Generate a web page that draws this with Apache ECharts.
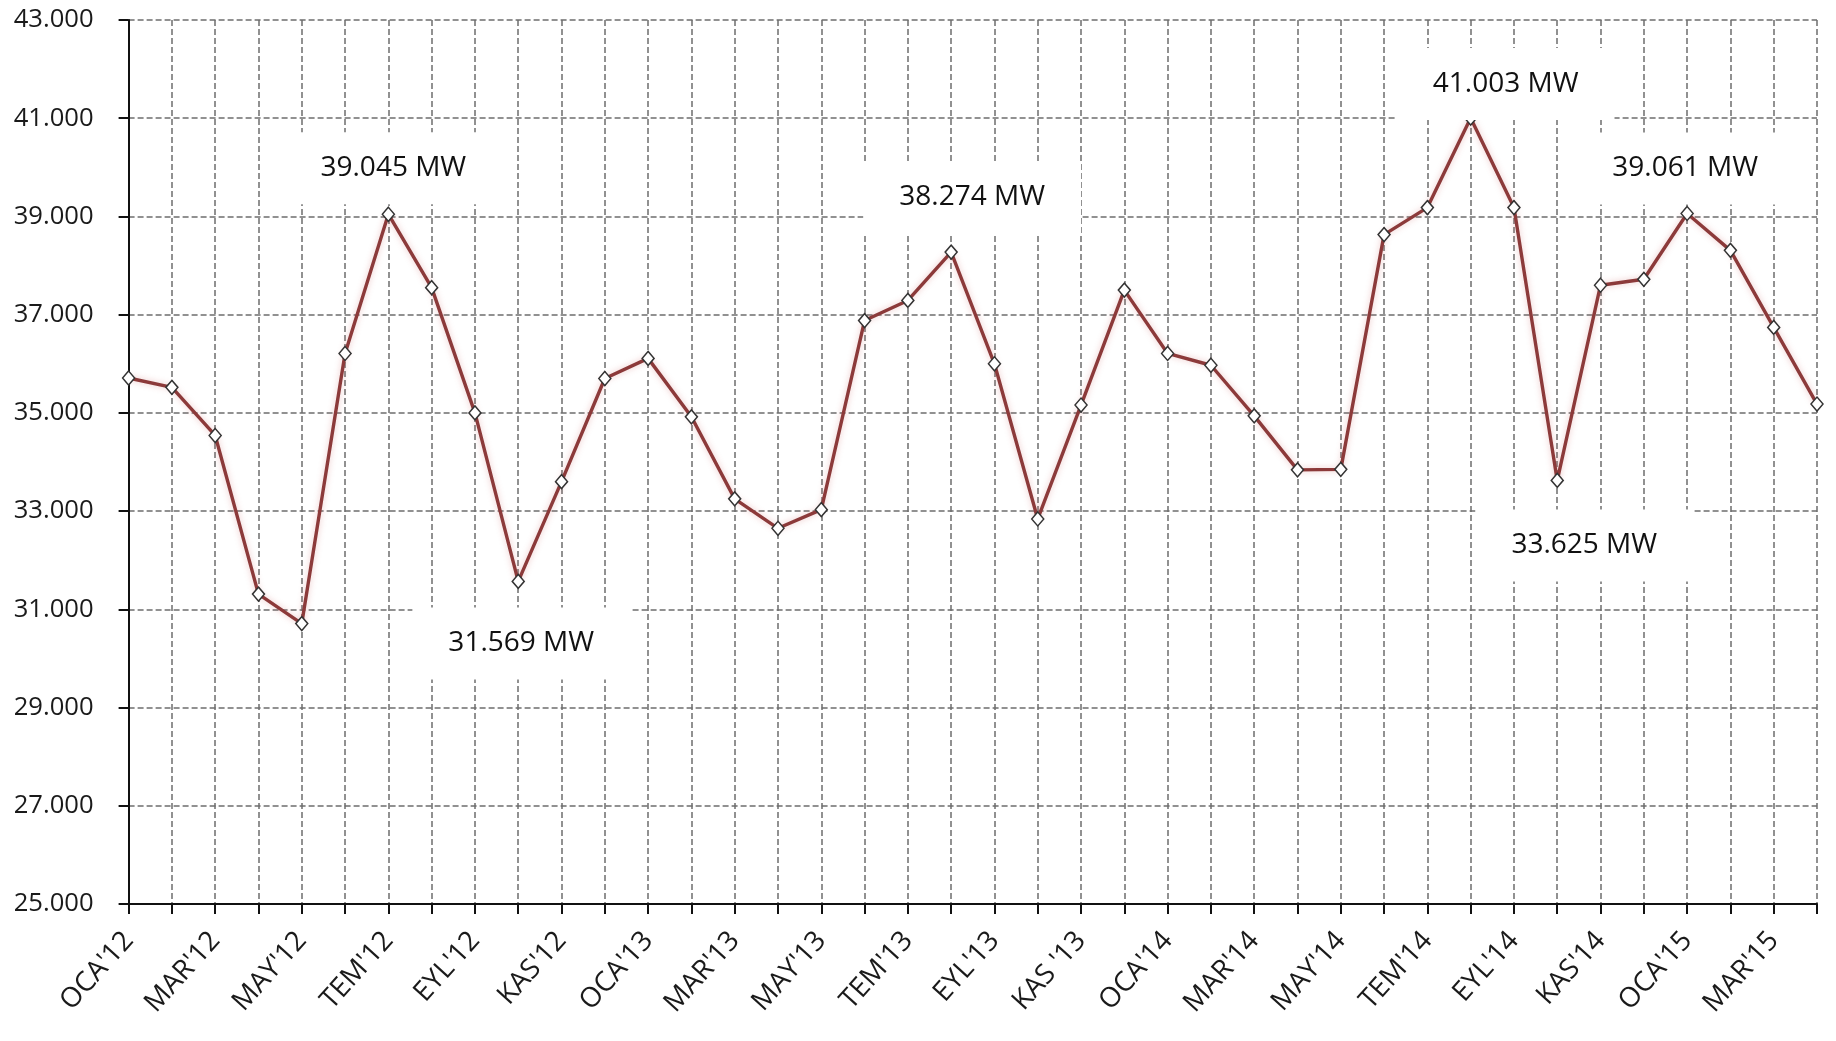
<!DOCTYPE html>
<html>
<head>
<meta charset="utf-8">
<script src="https://cdn.jsdelivr.net/npm/echarts@6/dist/echarts.min.js"></script>
<style>
html,body{margin:0;padding:0;background:#fff;}
#chart{width:1836px;height:1041px;}
</style>
</head>
<body>
<div id="chart"></div>
<script>
// ---- data ----
var categories = [
  "OCA'12","ŞUB'12","MAR'12","NİS'12","MAY'12","HAZ'12","TEM'12","AĞU'12","EYL'12","EKİ'12","KAS'12","ARA'12",
  "OCA'13","ŞUB'13","MAR'13","NİS'13","MAY'13","HAZ'13","TEM'13","AĞU'13","EYL'13","EKİ'13","KAS '13","ARA'13",
  "OCA'14","ŞUB'14","MAR'14","NİS'14","MAY'14","HAZ'14","TEM'14","AĞU'14","EYL'14","EKİ'14","KAS'14","ARA'14",
  "OCA'15","ŞUB'15","MAR'15","NİS'15"
];
var peakLoad = [
  35710, 35520, 34540, 31310, 30710, 36210, 39045, 37550, 35000, 31569, 33600, 35700,
  36110, 34920, 33250, 32650, 33030, 36880, 37290, 38274, 36000, 32840, 35160, 37500,
  36210, 35970, 34940, 33840, 33850, 38630, 39180, 41003, 39180, 33625, 37600, 37720,
  39061, 38310, 36740, 35180
];
var annotatedIndex = [6, 9, 19, 31, 33, 36];
var yTicks = { min: 25000, max: 43000, step: 2000 };

// ---- label placement (style, not data) ----
var annotOffsets = {
  6: [5, -46], 9: [3, 62], 19: [21, -55], 31: [35, -34], 33: [27, 65], 36: [-2, -45]
};

var FONT = "'Open Sans'";
var mctx = document.createElement('canvas').getContext('2d');
function textW(text, size) {
  mctx.font = size + 'px ' + FONT;
  return mctx.measureText(text).width;
}
// y-axis label size: fit "43.000" to ~80px wide
var yFont = Math.max(20, Math.min(30, 100 * 80 / textW('43.000', 100)));
// x-axis label size: rotated bbox of "OCA'12"
var xFont = Math.max(20, Math.min(30, 114 / (textW("OCA'12", 100) / 100 + 0.72)));

function fmtThousands(v) {
  return (v / 1000).toFixed(3);
}

var seriesData = peakLoad.map(function (v, i) {
  if (annotatedIndex.indexOf(i) >= 0) {
    return {
      value: v,
      label: {
        show: true,
        position: 'inside',
        offset: annotOffsets[i],
        formatter: fmtThousands(v) + ' MW',
        fontFamily: 'Open Sans',
        fontSize: 28,
        color: '#111',
        backgroundColor: '#ffffff',
        padding: [17, 36],
        lineHeight: 38
      }
    };
  }
  return v;
});

var chart = echarts.init(document.getElementById('chart'), null, { renderer: 'canvas' });
chart.setOption({
  animation: false,
  backgroundColor: '#ffffff',
  grid: {
    left: 128.6, right: 19, top: 20, bottom: 137,
    containLabel: false, outerBoundsMode: 'none'
  },
  xAxis: {
    type: 'category',
    data: categories,
    boundaryGap: false,
    axisLine: { show: true, lineStyle: { color: '#111', width: 2 } },
    axisTick: { show: true, interval: 0, length: 10, lineStyle: { color: '#111', width: 2 } },
    axisLabel: {
      interval: 1,
      rotate: 48,
      margin: 32,
      fontFamily: 'Open Sans',
      fontSize: xFont,
      color: '#1a1a1a'
    },
    splitLine: {
      show: true, interval: 0,
      lineStyle: { color: '#6e6e6e', width: 1.5, type: [6, 3] }
    }
  },
  yAxis: {
    type: 'value',
    min: yTicks.min, max: yTicks.max, interval: yTicks.step,
    axisLine: { show: true, lineStyle: { color: '#111', width: 2 } },
    axisTick: { show: true, length: 10, lineStyle: { color: '#111', width: 2 } },
    axisLabel: {
      margin: 35,
      fontFamily: 'Open Sans',
      fontSize: yFont,
      color: '#1a1a1a',
      formatter: function (v) { return fmtThousands(v); }
    },
    splitLine: {
      show: true,
      lineStyle: { color: '#6e6e6e', width: 1.5, type: [6, 3] }
    }
  },
  series: [{
    type: 'line',
    data: seriesData,
    showAllSymbol: true,
    symbol: 'diamond',
    symbolSize: [12, 14],
    itemStyle: { color: '#ffffff', borderColor: '#333333', borderWidth: 1.5 },
    lineStyle: {
      color: '#8c3a3a', width: 3.4,
      shadowColor: 'rgba(200,90,90,0.35)', shadowBlur: 6
    },
    label: { show: false },
    emphasis: { disabled: true },
    z: 3
  }]
});
</script>
</body>
</html>
